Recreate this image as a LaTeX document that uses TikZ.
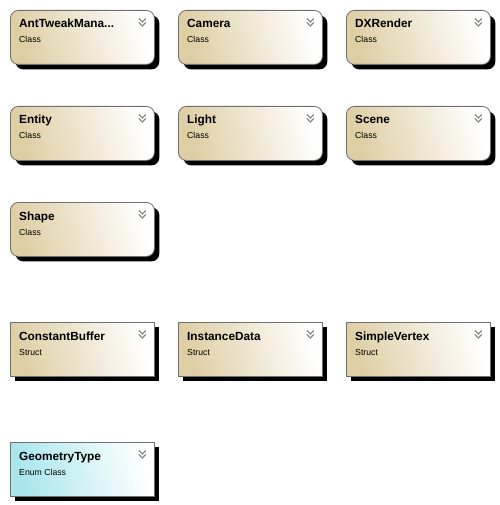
\documentclass[tikz,border=0pt]{standalone}
\usepackage{fontspec}
\setmainfont{Liberation Sans}
\usetikzlibrary{shadows,calc}
\definecolor{tanc}{RGB}{222,206,164}
\definecolor{cyanc}{RGB}{168,230,236}
\definecolor{edgec}{RGB}{112,112,112}
\definecolor{chevc}{RGB}{130,130,130}
\tikzset{
  x=1pt,y=-1pt,
  basebox/.style={draw=edgec, line width=0.8pt, minimum width=144pt, minimum height=54pt,
    inner sep=0pt, anchor=north west, shading=axis,
    drop shadow={shadow xshift=5pt, shadow yshift=-5pt, fill=black, opacity=1}},
  classbox/.style={basebox, rounded corners=8pt, top color=white, bottom color=tanc, shading angle=-75},
  structbox/.style={basebox, top color=white, bottom color=tanc, shading angle=-75},
  enumbox/.style={basebox, top color=white, bottom color=cyanc, shading angle=-75},
  titletext/.style={anchor=base west, inner sep=0pt, font=\bfseries\fontsize{11.8}{12}\selectfont},
  subtext/.style={anchor=base west, inner sep=0pt, font=\fontsize{8.7}{10}\selectfont},
  chev/.style={draw=chevc, line width=1pt}
}
\newcommand{\umlitem}[6]{%
  \node[#6] (#1) at (#2,#3) {};
  \node[titletext] (#1t) at ($(#1.north west)+(9,18)$) {#4};
  \node[subtext] (#1s) at ($(#1.north west)+(9,33)$) {#5};
  \draw[chev] ($(#1.north east)+(-16,8.5)$) -- ++(3.5,3.5) -- ++(3.5,-3.5);
  \draw[chev] ($(#1.north east)+(-16,12.5)$) -- ++(3.5,3.5) -- ++(3.5,-3.5);
}
\begin{document}
\begin{tikzpicture}
\useasboundingbox (0,0) rectangle (499,505);
\umlitem{antt}{10}{10}{AntTweakMana...}{Class}{classbox}
\umlitem{cam}{178}{10}{Camera}{Class}{classbox}
\umlitem{dxr}{346}{10}{DXRender}{Class}{classbox}
\umlitem{ent}{10}{106}{Entity}{Class}{classbox}
\umlitem{lig}{178}{106}{Light}{Class}{classbox}
\umlitem{sce}{346}{106}{Scene}{Class}{classbox}
\umlitem{sha}{10}{202}{Shape}{Class}{classbox}
\umlitem{cb}{10}{322}{ConstantBuffer}{Struct}{structbox}
\umlitem{idat}{178}{322}{InstanceData}{Struct}{structbox}
\umlitem{sv}{346}{322}{SimpleVertex}{Struct}{structbox}
\umlitem{geo}{10}{442}{GeometryType}{Enum Class}{enumbox}
\end{tikzpicture}
\end{document}
